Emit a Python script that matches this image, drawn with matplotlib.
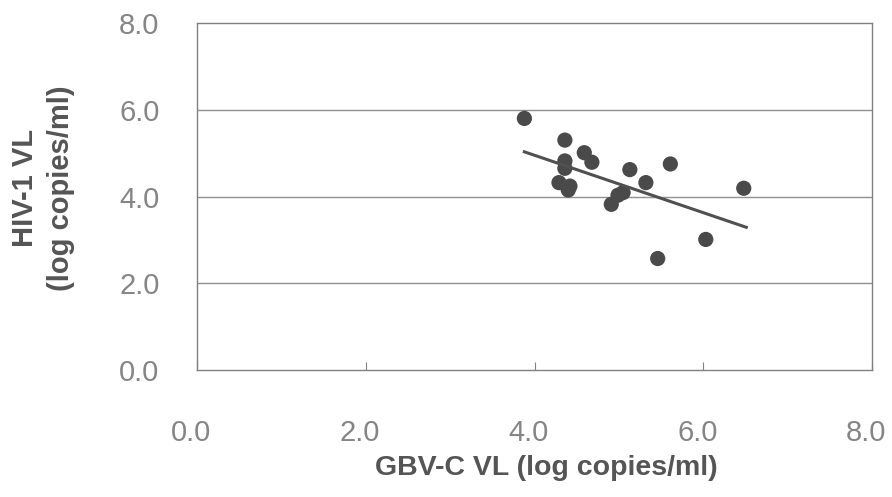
import matplotlib
matplotlib.use("Agg")
import matplotlib.pyplot as plt
from matplotlib.transforms import ScaledTranslation

gbv_c = [3.88, 4.36, 4.59, 4.68, 4.36, 4.36, 4.29, 4.42, 4.40, 5.13, 5.61, 5.32, 5.05, 4.99, 4.91, 6.48, 6.03, 5.46]
hiv_1 = [5.80, 5.30, 5.01, 4.79, 4.82, 4.65, 4.32, 4.24, 4.15, 4.62, 4.75, 4.32, 4.09, 4.03, 3.82, 4.19, 3.01, 2.57]
fit_x = [3.88, 6.51]
fit_y = [5.03, 3.29]
ticks = [0.0, 2.0, 4.0, 6.0, 8.0]
tick_labels = ["0.0", "2.0", "4.0", "6.0", "8.0"]

plt.rcParams['font.family'] = ['Liberation Sans', 'DejaVu Sans']

fig = plt.figure(figsize=(8.92, 4.97), dpi=100)
ax = fig.add_axes([197/892, 1-370/497, (872-197)/892, (370-23)/497])

for y in ticks[1:-1]:
    ax.axhline(y, color="#909090", lw=1.0, zorder=1)

ax.scatter(gbv_c, hiv_1, s=120, color="#4a4a4a", edgecolors="none", zorder=3)
ax.plot(fit_x, fit_y, color="#505050", lw=2.2, zorder=4)

ax.set_xlim(0, 8)
ax.set_ylim(0, 8)
ax.set_xticks(ticks)
ax.set_xticklabels(tick_labels)
ax.set_yticks(ticks)
ax.set_yticklabels(tick_labels)
ax.tick_params(axis="x", direction="in", length=6, color="#808080", labelsize=21,
               labelcolor="#858585", pad=35)
ax.tick_params(axis="y", length=0, labelsize=21, labelcolor="#858585", pad=27)
shift = ScaledTranslation(-6/100, 0, fig.dpi_scale_trans)
for lab in ax.get_xticklabels():
    lab.set_transform(lab.get_transform() + shift)
for sp in ax.spines.values():
    sp.set_color("#808080")
    sp.set_linewidth(1.0)

ax.set_xlabel("GBV-C VL (log copies/ml)", fontsize=20.5, fontweight="bold",
              color="#555555", va="center")
ax.xaxis.set_label_coords(0.518, (370-468)/347)
ax.set_ylabel("HIV-1 VL\n(log copies/ml)", fontsize=21, fontweight="bold",
              color="#555555", va="center", ha="center", linespacing=1.35)
ax.yaxis.set_label_coords((43-197)/675, (370-188)/347)

fig.savefig("out.png", dpi=100)
